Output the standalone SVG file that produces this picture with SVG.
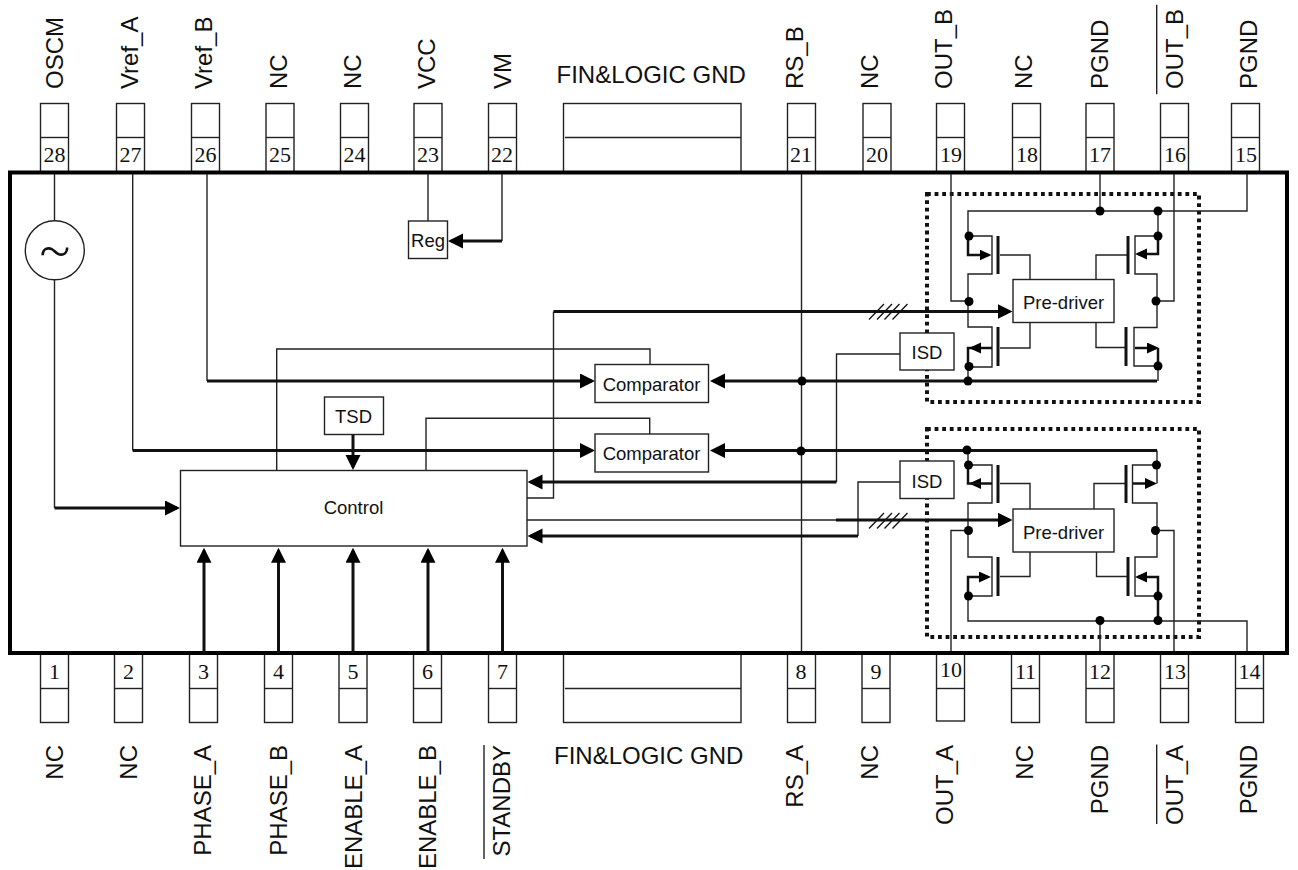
<svg xmlns="http://www.w3.org/2000/svg" width="1298" height="870" viewBox="0 0 1298 870">
<style>
text{font-family:"Liberation Sans",Arial,sans-serif;fill:#111}
.l{font-size:24px}
.le{font-size:24px;text-anchor:end}
.n{font-family:"Liberation Serif",serif;font-size:22px;text-anchor:middle}
.b{font-size:18.5px;text-anchor:middle}
.fin{font-size:24px}
.box{fill:#fff;stroke:#222;stroke-width:1.4}
.w{fill:none;stroke:#222;stroke-width:1.4}
.a{fill:none;stroke:#111;stroke-width:3;marker-end:url(#ah)}
.s{fill:none;stroke:#111;stroke-width:2.5;marker-end:url(#as)}
.u{fill:none;stroke:#111;stroke-width:2.5}
.g{fill:none;stroke:#111;stroke-width:3}
.h{fill:none;stroke:#111;stroke-width:1.3}
.d{fill:#000}
.dot{fill:none;stroke:#111;stroke-width:4;stroke-dasharray:3.8 3.8}
.tilde{font-family:Roboto,sans-serif;font-weight:300;font-size:50px;text-anchor:middle}
</style>
<defs>
<marker id="ah" markerUnits="userSpaceOnUse" markerWidth="16" markerHeight="16" refX="12" refY="7.5" orient="auto"><path d="M0 0L15 7.5L0 15Z" fill="#000"/></marker>
<marker id="as" markerUnits="userSpaceOnUse" markerWidth="13" markerHeight="13" refX="9" refY="5.5" orient="auto"><path d="M0 0L12 5.5L0 11Z" fill="#000"/></marker>
</defs>
<rect x="0" y="0" width="1298" height="870" fill="#fff"/>
<g id="pins-top">
<g id="pin28"><rect class="box" x="40.5" y="103.5" width="28" height="69"/><path class="w" d="M40.5 137.5h28"/><text class="n" x="54.5" y="161.5">28</text><text class="l" transform="translate(62.5,89) rotate(-90)">OSCM</text></g>
<g id="pin27"><rect class="box" x="116.5" y="103.5" width="28" height="69"/><path class="w" d="M116.5 137.5h28"/><text class="n" x="130.5" y="161.5">27</text><text class="l" transform="translate(137.7,89) rotate(-90)">Vref_A</text></g>
<g id="pin26"><rect class="box" x="191.5" y="103.5" width="28" height="69"/><path class="w" d="M191.5 137.5h28"/><text class="n" x="205.5" y="161.5">26</text><text class="l" transform="translate(211.7,89) rotate(-90)">Vref_B</text></g>
<g id="pin25"><rect class="box" x="266" y="103.5" width="28" height="69"/><path class="w" d="M266 137.5h28"/><text class="n" x="280" y="161.5">25</text><text class="l" transform="translate(286.7,89) rotate(-90)">NC</text></g>
<g id="pin24"><rect class="box" x="340.5" y="103.5" width="28" height="69"/><path class="w" d="M340.5 137.5h28"/><text class="n" x="354.5" y="161.5">24</text><text class="l" transform="translate(361,89) rotate(-90)">NC</text></g>
<g id="pin23"><rect class="box" x="414" y="103.5" width="28" height="69"/><path class="w" d="M414 137.5h28"/><text class="n" x="428" y="161.5">23</text><text class="l" transform="translate(435,89) rotate(-90)">VCC</text></g>
<g id="pin22"><rect class="box" x="488.5" y="103.5" width="28" height="69"/><path class="w" d="M488.5 137.5h28"/><text class="n" x="502" y="161.5">22</text><text class="l" transform="translate(510.7,89) rotate(-90)">VM</text></g>
<g id="fin-top"><rect class="box" x="563.5" y="103.5" width="177.5" height="69"/><path class="w" d="M565 137.5h176"/><text class="fin" x="556.5" y="83">FIN&amp;LOGIC GND</text></g>
<g id="pin21"><rect class="box" x="787.5" y="103.5" width="28" height="69"/><path class="w" d="M787.5 137.5h28"/><text class="n" x="801" y="161.5">21</text><text class="l" transform="translate(803.3,89) rotate(-90)">RS_B</text></g>
<g id="pin20"><rect class="box" x="863" y="103.5" width="28" height="69"/><path class="w" d="M863 137.5h28"/><text class="n" x="877" y="161.5">20</text><text class="l" transform="translate(878,89) rotate(-90)">NC</text></g>
<g id="pin19"><rect class="box" x="936.5" y="103.5" width="28" height="69"/><path class="w" d="M936.5 137.5h28"/><text class="n" x="951" y="161.5">19</text><text class="l" transform="translate(952.3,89) rotate(-90)">OUT_B</text></g>
<g id="pin18"><rect class="box" x="1012.5" y="103.5" width="28" height="69"/><path class="w" d="M1012.5 137.5h28"/><text class="n" x="1027" y="161.5">18</text><text class="l" transform="translate(1031.7,89) rotate(-90)">NC</text></g>
<g id="pin17"><rect class="box" x="1086" y="103.5" width="28" height="69"/><path class="w" d="M1086 137.5h28"/><text class="n" x="1100" y="161.5">17</text><text class="l" transform="translate(1108.3,89) rotate(-90)">PGND</text></g>
<g id="pin16"><rect class="box" x="1160.5" y="103.5" width="28" height="69"/><path class="w" d="M1160.5 137.5h28"/><text class="n" x="1175" y="161.5">16</text><text class="l" transform="translate(1183,89) rotate(-90)">OUT_B</text><path class="w" d="M1156.7 4.7V94.3"/></g>
<g id="pin15"><rect class="box" x="1231.5" y="103.5" width="28" height="69"/><path class="w" d="M1231.5 137.5h28"/><text class="n" x="1246" y="161.5">15</text><text class="l" transform="translate(1257,89) rotate(-90)">PGND</text></g>
</g>
<g id="pins-bottom">
<g id="pin1"><rect class="box" x="40.5" y="654" width="28" height="68.5"/><path class="w" d="M40.5 688.5h28"/><text class="n" x="54.5" y="679">1</text><text class="le" transform="translate(63,745) rotate(-90)">NC</text></g>
<g id="pin2"><rect class="box" x="114.5" y="654" width="28" height="68.5"/><path class="w" d="M114.5 688.5h28"/><text class="n" x="128.5" y="679">2</text><text class="le" transform="translate(137,745) rotate(-90)">NC</text></g>
<g id="pin3"><rect class="box" x="189.5" y="654" width="28" height="68.5"/><path class="w" d="M189.5 688.5h28"/><text class="n" x="203.5" y="679">3</text><text class="le" transform="translate(210.7,745) rotate(-90)">PHASE_A</text></g>
<g id="pin4"><rect class="box" x="264.5" y="654" width="28" height="68.5"/><path class="w" d="M264.5 688.5h28"/><text class="n" x="278.5" y="679">4</text><text class="le" transform="translate(286.5,745) rotate(-90)">PHASE_B</text></g>
<g id="pin5"><rect class="box" x="339" y="654" width="28" height="68.5"/><path class="w" d="M339 688.5h28"/><text class="n" x="353" y="679">5</text><text class="le" transform="translate(361.6,745) rotate(-90)">ENABLE_A</text></g>
<g id="pin6"><rect class="box" x="413.5" y="654" width="28" height="68.5"/><path class="w" d="M413.5 688.5h28"/><text class="n" x="427.5" y="679">6</text><text class="le" transform="translate(435.6,745) rotate(-90)">ENABLE_B</text></g>
<g id="pin7"><rect class="box" x="488.5" y="654" width="28" height="68.5"/><path class="w" d="M488.5 688.5h28"/><text class="n" x="502.5" y="679">7</text><text class="le" transform="translate(510.3,745) rotate(-90)">STANDBY</text><path class="w" d="M484 745V859"/></g>
<g id="fin-bottom"><rect class="box" x="563.5" y="654" width="177.5" height="68.5"/><path class="w" d="M565 688.5h176"/><text class="fin" x="554" y="764">FIN&amp;LOGIC GND</text></g>
<g id="pin8"><rect class="box" x="787.5" y="654" width="28" height="68.5"/><path class="w" d="M787.5 688.5h28"/><text class="n" x="801" y="679">8</text><text class="le" transform="translate(803.3,745) rotate(-90)">RS_A</text></g>
<g id="pin9"><rect class="box" x="862" y="654" width="28" height="68.5"/><path class="w" d="M862 688.5h28"/><text class="n" x="876" y="679">9</text><text class="le" transform="translate(878,745) rotate(-90)">NC</text></g>
<g id="pin10"><rect class="box" x="936.5" y="654" width="28" height="67"/><path class="w" d="M936.5 688.5h28"/><text class="n" x="951" y="676.7">10</text><text class="le" transform="translate(952.7,745) rotate(-90)">OUT_A</text></g>
<g id="pin11"><rect class="box" x="1011.5" y="654" width="28" height="68.5"/><path class="w" d="M1011.5 688.5h28"/><text class="n" x="1025.5" y="679">11</text><text class="le" transform="translate(1033.3,745) rotate(-90)">NC</text></g>
<g id="pin12"><rect class="box" x="1086" y="654" width="28" height="68.5"/><path class="w" d="M1086 688.5h28"/><text class="n" x="1100" y="679">12</text><text class="le" transform="translate(1107.7,745) rotate(-90)">PGND</text></g>
<g id="pin13"><rect class="box" x="1160.5" y="654" width="28" height="68.5"/><path class="w" d="M1160.5 688.5h28"/><text class="n" x="1175" y="679">13</text><text class="le" transform="translate(1182.7,745) rotate(-90)">OUT_A</text><path class="w" d="M1156.7 744.5V824"/></g>
<g id="pin14"><rect class="box" x="1235.5" y="654" width="28" height="68.5"/><path class="w" d="M1235.5 688.5h28"/><text class="n" x="1249.5" y="679">14</text><text class="le" transform="translate(1257.3,745) rotate(-90)">PGND</text></g>
</g>
<g id="ic"><rect x="10" y="172.5" width="1277" height="480.5" fill="#fff" stroke="#000" stroke-width="4"/></g>
<g id="dotted"><rect class="dot" x="927" y="194" width="272" height="208"/><rect class="dot" x="927" y="429" width="272" height="208"/></g>
<g id="connectors">
<path class="w" d="M54.5 174V221M54.5 280V508M132.7 174V450.5M207 174V381M428 174V221M502 174V241M801.5 174V651M276.7 471V349H650V364.5M426 471V418.3H649.7V434M527 498H553.5V311.5M527 520H836M900 354H836.5V482M900 482H858V536"/>
<path class="w" d="M951 174V301H968M1174 174V301H1157M1100 174V211M1247 174V211H968V236H992V274H968V327H992V367H968M1158 211V236H1135V274H1157V327.5H1134V366H1158V381M968 367V381"/>
<path class="w" d="M1030 279V255H1000M1096 279V255H1128M1030 322V348H1000M1096 322V347.5H1126"/>
<path class="w" d="M951 651V530.5H968M1174 651V530.5H1157M1100 651V621M1247 651V621H968V596H992V557H968V503H992V465H968V450.5M1157 450.5V483.5M1157 465H1132.5V503H1157V557H1135V596H1158V621"/>
<path class="w" d="M1030 509V483.5H1000M1094 509V483.5H1126M1030 552V576.5H1000M1096.5 552V576.5H1128"/>
<path class="g" d="M998 236V274M1128 236V274M998 327V366M1126 327V366M998 465V503M1126 465V503M998 557V596M1128 557V596"/>
<path class="a" d="M54.5 508H177"/>
<path class="a" d="M132.7 450.5H592"/>
<path class="a" d="M207 381H592"/>
<path class="a" d="M1157 381H713"/>
<path class="a" d="M1157 450.5H713"/>
<path class="a" d="M836.5 482H530.5"/>
<path class="a" d="M858 536H530.5"/>
<path class="a" d="M553.5 311.5H1009.5"/>
<path class="a" d="M836 520H1009.5"/>
<path class="a" d="M502 241H451"/>
<path class="a" d="M353 434.5V467"/>
<path class="a" d="M204 653V550.7"/>
<path class="a" d="M278.5 653V550.7"/>
<path class="a" d="M353 653V550.7"/>
<path class="a" d="M428 653V550.7"/>
<path class="a" d="M502.5 653V550.7"/>
<path class="s" d="M968 236V255H988.5"/>
<path class="s" d="M1158 236V254H1138"/>
<path class="u" d="M968 366V348H980"/>
<path class="s" d="M992 348H972"/>
<path class="s" d="M1135 348H1156"/>
<path class="u" d="M1158 348V366"/>
<path class="s" d="M992 483.5H972"/>
<path class="u" d="M968 465V483.5H980"/>
<path class="s" d="M1133 483.5H1154"/>
<path class="s" d="M968 596V577H988"/>
<path class="s" d="M1158 621V577H1138"/>
<path class="h" d="M869 319.5L884 304M877 319.5L892 304M884.5 319.5L899.5 304M892.5 319.5L907.5 304M869 528.5L884 513M877 528.5L892 513M884.5 528.5L899.5 513M892.5 528.5L907.5 513"/>
<g class="d">
<circle cx="1100" cy="211" r="4.5"/><circle cx="1158" cy="211" r="4.5"/><circle cx="969" cy="236" r="4.5"/><circle cx="1158" cy="236" r="4.5"/><circle cx="969" cy="301.5" r="4.5"/><circle cx="1156" cy="301" r="4.5"/><circle cx="969" cy="366.5" r="4.5"/><circle cx="1158" cy="366" r="4.5"/><circle cx="968" cy="381" r="4.5"/><circle cx="802" cy="381" r="4.5"/><circle cx="801" cy="451" r="4.5"/>
<circle cx="967" cy="450" r="4.5"/><circle cx="968.5" cy="465" r="4.5"/><circle cx="1156.5" cy="465" r="4.5"/><circle cx="968.5" cy="530.5" r="4.5"/><circle cx="1155.5" cy="530.5" r="4.5"/><circle cx="968.5" cy="596" r="4.5"/><circle cx="1158" cy="596" r="4.5"/><circle cx="1100" cy="620.5" r="4.5"/><circle cx="1158" cy="620.5" r="4.5"/>
</g>
</g>
<g id="osc"><circle cx="54.8" cy="250.3" r="29.5" fill="#fff" stroke="#222" stroke-width="1.4"/><text class="tilde" x="55" y="266">~</text></g>
<g id="reg"><rect class="box" x="408.5" y="221" width="39" height="37.5"/><text class="b" x="428" y="246.5">Reg</text></g>
<g id="tsd"><rect class="box" x="324.5" y="397" width="59" height="37.5"/><text class="b" x="353.5" y="422.5">TSD</text></g>
<g id="control"><rect class="box" x="180.5" y="470.5" width="346.5" height="75.5"/><text class="b" x="353.5" y="514">Control</text></g>
<g id="comp1"><rect class="box" x="595" y="364.5" width="113.5" height="38"/><text class="b" x="651.5" y="391">Comparator</text></g>
<g id="comp2"><rect class="box" x="595" y="434" width="113.5" height="38"/><text class="b" x="651.5" y="460">Comparator</text></g>
<g id="isd1"><rect class="box" x="900" y="333" width="54" height="37"/><text class="b" x="927" y="359">ISD</text></g>
<g id="isd2"><rect class="box" x="900" y="461" width="54" height="37.5"/><text class="b" x="927" y="487.5">ISD</text></g>
<g id="pre1"><rect class="box" x="1013" y="279.5" width="101" height="43"/><text class="b" x="1063.5" y="309.3">Pre-driver</text></g>
<g id="pre2"><rect class="box" x="1013" y="509" width="101" height="43"/><text class="b" x="1063.5" y="538.7">Pre-driver</text></g>
</svg>
